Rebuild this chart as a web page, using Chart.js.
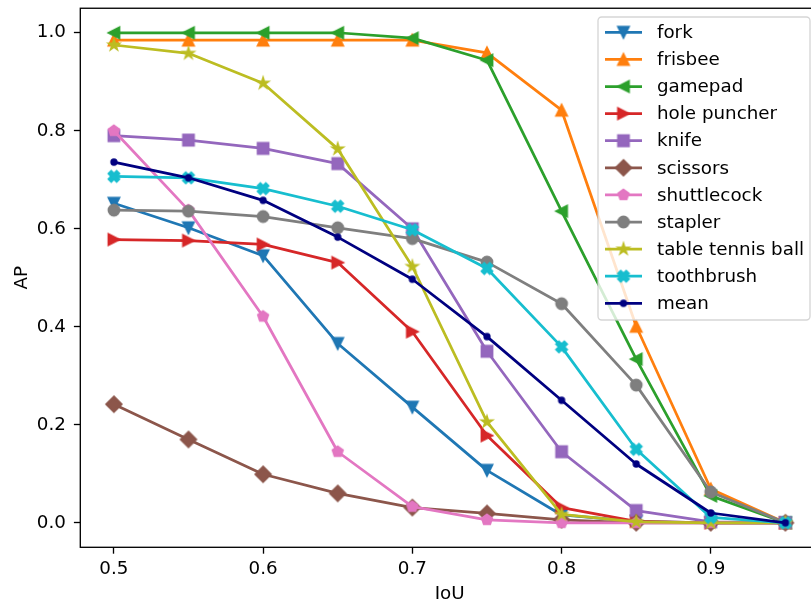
<!DOCTYPE html>
<html>
<head>
<meta charset="utf-8">
<script src="https://cdn.jsdelivr.net/npm/chart.js@4/dist/chart.umd.min.js"></script>
<style>
  html, body { margin: 0; padding: 0; background: #fff; overflow: hidden; }
  #wrap { width: 811px; height: 606px; overflow: hidden; }
</style>
</head>
<body>
<div id="wrap"><canvas id="apChart" width="830" height="606"></canvas></div>
<script>
// IoU thresholds and AP per class
const iou = [0.5, 0.55, 0.6, 0.65, 0.7, 0.75, 0.8, 0.85, 0.9, 0.95];
const fork = [0.652, 0.602, 0.545, 0.366, 0.236, 0.107, 0.016, 0.003, 0.0, 0.0];
const frisbee = [0.985, 0.985, 0.985, 0.985, 0.985, 0.959, 0.842, 0.401, 0.069, 0.0];
const gamepad = [1.0, 1.0, 1.0, 1.0, 0.989, 0.944, 0.636, 0.334, 0.055, 0.0];
const holePuncher = [0.578, 0.576, 0.568, 0.531, 0.390, 0.178, 0.031, 0.003, 0.0, 0.0];
const knife = [0.790, 0.781, 0.764, 0.733, 0.600, 0.350, 0.145, 0.025, 0.002, 0.0];
const scissors = [0.242, 0.170, 0.099, 0.060, 0.031, 0.019, 0.006, 0.0, 0.0, 0.0];
const shuttlecock = [0.800, 0.638, 0.421, 0.145, 0.033, 0.006, 0.0, 0.0, 0.0, 0.0];
const stapler = [0.638, 0.636, 0.625, 0.602, 0.580, 0.532, 0.447, 0.281, 0.063, 0.0];
const tableTennisBall = [0.975, 0.958, 0.897, 0.763, 0.523, 0.206, 0.017, 0.002, 0.0, 0.0];
const toothbrush = [0.707, 0.704, 0.682, 0.646, 0.598, 0.519, 0.359, 0.150, 0.011, 0.0];
const mean = [0.736, 0.704, 0.658, 0.583, 0.497, 0.380, 0.250, 0.120, 0.020, 0.0];

const classNames = ['fork', 'frisbee', 'gamepad', 'hole puncher', 'knife', 'scissors',
    'shuttlecock', 'stapler', 'table tennis ball', 'toothbrush', 'mean'];
const seriesValues = [fork, frisbee, gamepad, holePuncher, knife, scissors,
    shuttlecock, stapler, tableTennisBall, toothbrush, mean];
const xTicks = [0.5, 0.6, 0.7, 0.8, 0.9];
const yTicks = [0.0, 0.2, 0.4, 0.6, 0.8, 1.0];

const colors = ['#1f77b4', '#ff7f0e', '#2ca02c', '#d62728', '#9467bd', '#8c564b',
    '#e377c2', '#7f7f7f', '#bcbd22', '#17becf', '#000080'];
const markerShapes = ['v', '^', '<', '>', 's', 'D', 'p', 'o', '*', 'X', '.'];

// matplotlib-like marker drawn once into a small canvas
function makeMarker(shape, color) {
    const c = document.createElement('canvas');
    c.width = 24;
    c.height = 24;
    const ctx = c.getContext('2d');
    ctx.translate(12, 12);
    ctx.fillStyle = color;
    ctx.strokeStyle = color;
    ctx.lineWidth = 1.8;
    const h = 5.5;
    let pts = [];
    if (shape === 'v') pts = [[0, h], [-h, -h], [h, -h]];
    else if (shape === '^') pts = [[0, -h], [-h, h], [h, h]];
    else if (shape === '<') pts = [[-h, 0], [h, -h], [h, h]];
    else if (shape === '>') pts = [[h, 0], [-h, -h], [-h, h]];
    else if (shape === 's') pts = [[-h, -h], [h, -h], [h, h], [-h, h]];
    else if (shape === 'D') {
        const d = h * Math.SQRT2;
        pts = [[0, -d], [d, 0], [0, d], [-d, 0]];
    } else if (shape === 'p') {
        for (let i = 0; i < 5; i++) {
            const a = Math.PI / 2 + i * 2 * Math.PI / 5;
            pts.push([h * Math.cos(a), -h * Math.sin(a)]);
        }
    } else if (shape === '*') {
        for (let i = 0; i < 10; i++) {
            const r = i % 2 ? h * 0.381966 : h;
            const a = Math.PI / 2 + i * Math.PI / 5;
            pts.push([r * Math.cos(a), -r * Math.sin(a)]);
        }
    } else if (shape === 'X') {
        const unit = [[0.25, 0], [0.5, 0.25], [0.75, 0], [1, 0.25], [0.75, 0.5], [1, 0.75],
            [0.75, 1], [0.5, 0.75], [0.25, 1], [0, 0.75], [0.25, 0.5], [0, 0.25]];
        pts = unit.map(([x, y]) => [(x - 0.5) * 2 * h, (0.5 - y) * 2 * h]);
    }
    ctx.beginPath();
    if (shape === 'o' || shape === '.') {
        ctx.arc(0, 0, shape === 'o' ? h : h / 2, 0, Math.PI * 2);
    } else {
        pts.forEach(([x, y], i) => i ? ctx.lineTo(x, y) : ctx.moveTo(x, y));
        ctx.closePath();
    }
    ctx.fill();
    ctx.stroke();
    return c;
}

const markerImages = markerShapes.map((s, i) => makeMarker(s, colors[i]));

const datasets = classNames.map((name, i) => ({
    label: name,
    data: seriesValues[i].map((v, j) => ({ x: iou[j], y: v })),
    borderColor: colors[i],
    backgroundColor: colors[i],
    borderWidth: 2.75,
    borderJoinStyle: 'round',
    pointStyle: markerImages[i],
    pointRadius: 5.5,
    pointHoverRadius: 5.5,
    tension: 0,
    order: classNames.length - i // later series on top, like matplotlib
}));

// full box around the axes
const spinesPlugin = {
    id: 'spines',
    afterDatasetsDraw(chart) {
        const { ctx, chartArea: a } = chart;
        ctx.save();
        ctx.strokeStyle = '#000';
        ctx.lineWidth = 1.33;
        ctx.strokeRect(a.left, a.top, a.right - a.left, a.bottom - a.top);
        ctx.restore();
    }
};

// legend box in the upper right, line + marker handles
const legendPlugin = {
    id: 'mplLegend',
    afterDraw(chart) {
        const ctx = chart.ctx;
        const box = { x: 598, y: 17, w: 212, h: 303, r: 3.7 };
        ctx.save();
        ctx.beginPath();
        ctx.roundRect(box.x, box.y, box.w, box.h, box.r);
        ctx.fillStyle = 'rgba(255,255,255,0.8)';
        ctx.fill();
        ctx.strokeStyle = 'rgba(204,204,204,0.8)';
        ctx.lineWidth = 1.33;
        ctx.stroke();

        ctx.font = "18.3px 'DejaVu Sans'";
        ctx.textBaseline = 'middle';
        ctx.fillStyle = '#000';
        chart.data.datasets.forEach((ds, i) => {
            const y = 32.3 + i * 27.1;
            ctx.beginPath();
            ctx.moveTo(605, y);
            ctx.lineTo(642, y);
            ctx.strokeStyle = ds.borderColor;
            ctx.lineWidth = 2.75;
            ctx.stroke();
            const img = ds.pointStyle;
            ctx.drawImage(img, 623.5 - img.width / 2, y - img.height / 2);
            ctx.fillStyle = '#000';
            ctx.fillText(ds.label, 657, y + 1);
        });
        ctx.restore();
    }
};

Chart.defaults.font.family = "'DejaVu Sans', sans-serif";
Chart.defaults.font.size = 18.3;
Chart.defaults.color = '#000';

new Chart(document.getElementById('apChart'), {
    type: 'line',
    data: { datasets: datasets },
    options: {
        responsive: false,
        animation: false,
        layout: { padding: { top: 7.3, right: 11, bottom: 0, left: 0 } },
        plugins: {
            legend: { display: false },
            tooltip: { enabled: false }
        },
        scales: {
            x: {
                type: 'linear',
                min: 0.4775,
                max: 0.9725,
                afterBuildTicks: scale => { scale.ticks = xTicks.map(v => ({ value: v })); },
                afterFit: scale => {
                    scale.height = 58.7;
                    scale.paddingLeft = 0;
                    scale.paddingRight = 0;
                },
                ticks: { padding: 5, maxRotation: 0, autoSkip: false, callback: v => v.toFixed(1) },
                grid: { drawOnChartArea: false, tickLength: 6.4, tickWidth: 1.33, tickColor: '#000' },
                border: { display: false },
                title: { display: true, text: 'IoU', padding: { top: 0, bottom: 1 } }
            },
            y: {
                type: 'linear',
                min: -0.05,
                max: 1.05,
                afterBuildTicks: scale => { scale.ticks = yTicks.map(v => ({ value: v })); },
                afterFit: scale => {
                    scale.width = 80.3;
                    scale.paddingTop = 0;
                    scale.paddingBottom = 0;
                },
                ticks: { padding: 8, autoSkip: false, callback: v => v.toFixed(1) },
                grid: { drawOnChartArea: false, tickLength: 6.4, tickWidth: 1.33, tickColor: '#000' },
                border: { display: false },
                title: { display: true, text: 'AP', padding: { top: 11, bottom: 0 } }
            }
        }
    },
    plugins: [spinesPlugin, legendPlugin]
});
</script>
</body>
</html>
